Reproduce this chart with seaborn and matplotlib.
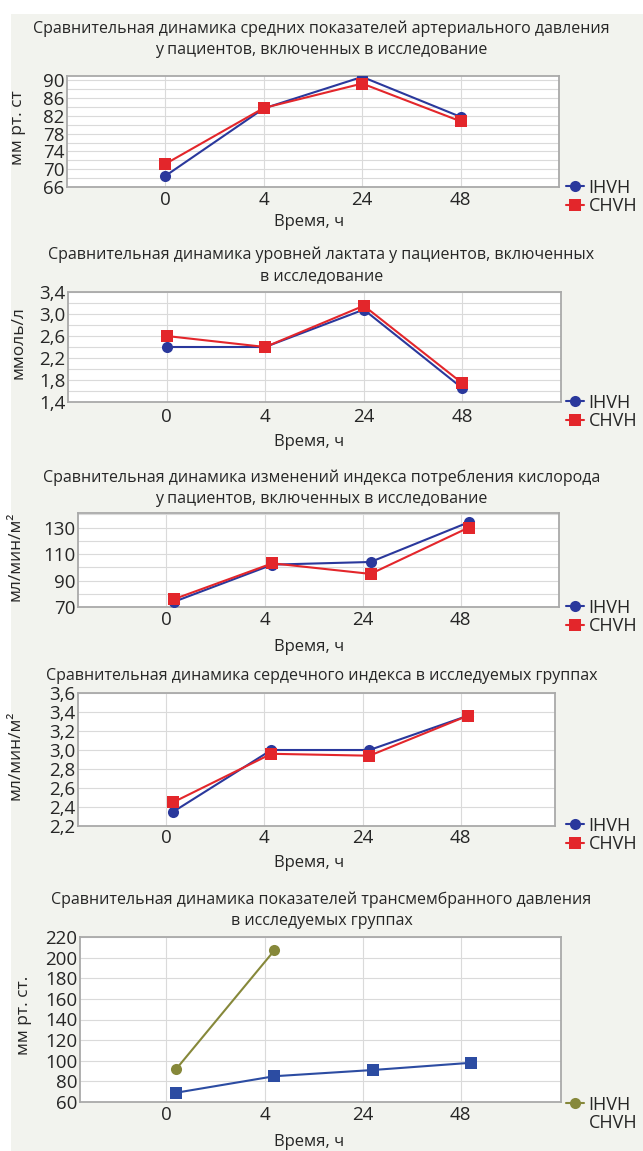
import numpy as np
import pandas as pd
import matplotlib.pyplot as plt
import seaborn as sns
from matplotlib.lines import Line2D
from matplotlib.patches import Rectangle
from matplotlib.ticker import FuncFormatter

sns.set_style("white")
plt.rcParams['font.family'] = ['Open Sans', 'DejaVu Sans']

W, H = 643, 1151

hours = ['0', '4', '24', '48']
groups = ['IHVH', 'CHVH']

# среднее АД, мм рт. ст
map_ihvh = [68.5, 83.7, 90.8, 81.8]
map_chvh = [71.2, 83.8, 89.3, 80.8]
# лактат, ммоль/л
lact_ihvh = [2.40, 2.40, 3.08, 1.65]
lact_chvh = [2.60, 2.40, 3.15, 1.74]
# индекс потребления кислорода
vo2_ihvh = [74, 102, 104, 134]
vo2_chvh = [76, 103, 95, 130]
# сердечный индекс
ci_ihvh = [2.35, 3.00, 3.00, 3.36]
ci_chvh = [2.45, 2.96, 2.94, 3.36]
# трансмембранное давление
tmp_ihvh = [92, 207, np.nan, np.nan]
tmp_chvh = [69, 85, 91, 98]

titles = [
    'Сравнительная динамика средних показателей артериального давления\nу пациентов, включенных в исследование',
    'Сравнительная динамика уровней лактата у пациентов, включенных\nв исследование',
    'Сравнительная динамика изменений индекса потребления кислорода\nу пациентов, включенных в исследование',
    'Сравнительная динамика сердечного индекса в исследуемых группах',
    'Сравнительная динамика показателей трансмембранного давления\nв исследуемых группах',
]
ylabels = ['мм рт. ст', 'ммоль/л', 'мл/мин/м²', 'мл/мин/м²', 'мм рт. ст.']

BLUE = '#2a389c'
RED = '#e3262b'
OLIVE = '#86883a'
BLUE2 = '#2c4ca2'
GRID = '#dadada'
SPINE = '#a9a9a9'


def px_axes(fig, left, top, right, bottom):
    return fig.add_axes([left / W, 1 - bottom / H, (right - left) / W, (bottom - top) / H])


def comma(v, pos):
    return f'{v:.1f}'.replace('.', ',')


def draw_panel(fig, ih, ch, box, ylim, major, minor, decimal, xlim, shift,
               title, title_y, ylabel, ylabel_x, xtick_y, xlabel_y, leg_y,
               colors=(BLUE, RED), markers=('o', 's'), blank_second=False):
    left, top, right, bottom = box
    ax = px_axes(fig, left, top, right, bottom)
    ax.set_facecolor('white')

    x = np.arange(len(hours)) + shift
    df = pd.DataFrame({
        'x': np.concatenate([x, x]),
        'val': np.concatenate([ih, ch]),
        'group': [groups[0]] * len(hours) + [groups[1]] * len(hours),
    }).dropna()

    for g, c, m in zip(groups, colors, markers):
        sub = df[df['group'] == g]
        sns.lineplot(data=sub, x='x', y='val', ax=ax, color=c, marker=m,
                     markersize=8, markeredgewidth=0, linewidth=1.5,
                     legend=False, zorder=3)

    ax.set_xlim(*xlim)
    ax.set_ylim(*ylim)
    ax.set_xticks(np.arange(len(hours)))
    ax.set_xticklabels([])
    ax.set_yticks(np.arange(ylim[0], ylim[1] + 1e-9, major))
    ax.set_yticks(np.arange(ylim[0], ylim[1] + 1e-9, minor), minor=True)
    if decimal:
        ax.yaxis.set_major_formatter(FuncFormatter(comma))
    else:
        ax.yaxis.set_major_formatter(FuncFormatter(lambda v, p: f'{v:.0f}'))
    ax.tick_params(axis='y', which='major', labelsize=13.5, direction='in',
                   length=3, color=SPINE, pad=2)
    ax.tick_params(axis='y', which='minor', direction='in', length=2, color=SPINE)
    ax.tick_params(axis='x', direction='in', length=3, color=SPINE)
    ax.grid(True, which='major', color=GRID, linewidth=0.8)
    ax.grid(True, which='minor', axis='y', color=GRID, linewidth=0.8)
    ax.set_axisbelow(True)
    for s in ax.spines.values():
        s.set_color(SPINE)
        s.set_linewidth(1.3)
    ax.set_xlabel('')
    ax.set_ylabel('')

    for i, h in enumerate(hours):
        px = left + (i - xlim[0]) / (xlim[1] - xlim[0]) * (right - left)
        fig.text(px / W, 1 - xtick_y / H, h, ha='center', va='center', fontsize=13.5)

    fig.text(0.5, 1 - title_y / H, title, ha='center', va='center',
             fontsize=11.5, linespacing=1.45)
    fig.text(0.48, 1 - xlabel_y / H, 'Время, ч', ha='center', va='center', fontsize=12)
    fig.text(ylabel_x / W, 1 - ((top + bottom) / 2 - 4) / H, ylabel, rotation=90,
             ha='center', va='center', fontsize=12.5)

    handles = [Line2D([], [], color=colors[0], marker=markers[0], markersize=8,
                      markeredgewidth=0, linewidth=1.5)]
    if blank_second:
        handles.append(Line2D([], [], color='none', marker=None, linewidth=0))
    else:
        handles.append(Line2D([], [], color=colors[1], marker=markers[1], markersize=8,
                              markeredgewidth=0, linewidth=1.5))
    ax.legend(handles, groups, loc='center left',
              bbox_to_anchor=(566 / W, 1 - leg_y / H), bbox_transform=fig.transFigure,
              frameon=False, handlelength=1.0, handletextpad=0.25, labelspacing=0.05,
              borderpad=0, borderaxespad=0, fontsize=13)
    return ax


fig = plt.figure(figsize=(W / 100, H / 100), dpi=100)
fig.patch.set_facecolor('white')
fig.add_artist(Rectangle((11 / W, 0), 1, 1 - 14 / H, transform=fig.transFigure,
                         facecolor='#f2f3ee', edgecolor='none', zorder=-10))

draw_panel(fig, map_ihvh, map_chvh, (67, 76, 559, 187), (66, 91), 4, 2, False,
           (-1.0, 4.0), 0.0, titles[0], 39, ylabels[0], 18, 200, 222, 197)
draw_panel(fig, lact_ihvh, lact_chvh, (68, 292, 561, 402), (1.4, 3.4), 0.4, 0.2, True,
           (-1.0, 4.0), 0.0, titles[1], 265, ylabels[1], 18, 417, 442, 412)
draw_panel(fig, vo2_ihvh, vo2_chvh, (78, 513, 559, 607), (70, 141), 20, 10, False,
           (-0.9, 4.0), 0.08, titles[2], 488, ylabels[2], 16, 620, 647, 617)
draw_panel(fig, ci_ihvh, ci_chvh, (78, 693, 555, 826), (2.2, 3.6), 0.2, 0.2, True,
           (-0.9, 3.96), 0.07, titles[3], 676, ylabels[3], 16, 838, 863, 835)
draw_panel(fig, tmp_ihvh, tmp_chvh, (80, 937, 561, 1102), (60, 220), 20, 20, False,
           (-0.88, 4.02), 0.1, titles[4], 910, ylabels[4], 24, 1115, 1142, 1114,
           colors=(OLIVE, BLUE2), markers=('o', 's'), blank_second=True)

fig.savefig('out.png', dpi=100, facecolor=fig.get_facecolor())
